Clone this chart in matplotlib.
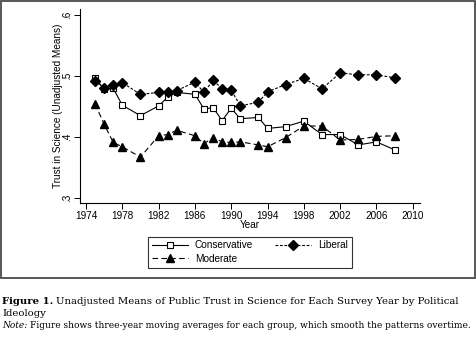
import matplotlib
matplotlib.use("Agg")
import matplotlib.pyplot as plt

# three-year moving averages of trust in science, by survey year
years = [1975, 1976, 1977, 1978, 1980, 1982, 1983, 1984, 1986, 1987, 1988, 1989,
         1990, 1991, 1993, 1994, 1996, 1998, 2000, 2002, 2004, 2006, 2008]
conservative = [.497, .478, .480, .452, .435, .451, .465, .473, .470, .446, .448, .427,
                .447, .430, .432, .414, .417, .426, .404, .404, .387, .392, .379]
moderate = [.454, .421, .391, .384, .367, .402, .404, .411, .402, .389, .399, .392,
            .391, .392, .387, .384, .399, .418, .418, .395, .396, .401, .402]
liberal = [.492, .481, .486, .489, .470, .473, .473, .476, .490, .473, .493, .479,
           .477, .451, .457, .474, .486, .496, .479, .505, .502, .502, .497]

x_ticks = [1974, 1978, 1982, 1986, 1990, 1994, 1998, 2002, 2006, 2010]
y_ticks = [.3, .4, .5, .6]
y_tick_labels = [".3", ".4", ".5", ".6"]

W, H = 477, 343
sans = "Liberation Sans"
serif = "DejaVu Serif"

fig = plt.figure(figsize=(W / 100, H / 100), dpi=100)
fig.patch.set_facecolor("white")

# gray frame around the graph region
frame = plt.Rectangle((0.5 / W, 1 - 278 / H), 475 / W, 277.5 / H, transform=fig.transFigure,
                      fill=False, edgecolor="#4a4a4a", linewidth=1.3)
fig.add_artist(frame)

ax = fig.add_axes([80 / W, 1 - 203 / H, 340 / W, 194 / H])
ax.set_xlim(1973.34, 2010.8)
ax.set_ylim(0.2918, 0.6098)

ax.plot(years, conservative, color="black", linewidth=0.8, linestyle="-",
        marker="s", markersize=4.2, markerfacecolor="white", markeredgecolor="black",
        markeredgewidth=0.8, label="Conservative")
ax.plot(years, moderate, color="black", linewidth=0.8, linestyle=(0, (5, 3)),
        marker="^", markersize=5.8, markerfacecolor="black", markeredgecolor="black",
        label="Moderate")
ax.plot(years, liberal, color="black", linewidth=0.8, linestyle=(0, (2.5, 1.5)),
        marker="D", markersize=5.3, markerfacecolor="black", markeredgecolor="black",
        label="Liberal")

for s in ["top", "right"]:
    ax.spines[s].set_visible(False)
for s in ["left", "bottom"]:
    ax.spines[s].set_linewidth(0.8)

ax.set_xticks(x_ticks)
ax.set_xticklabels([str(t) for t in x_ticks], fontfamily=sans, fontsize=7.2)
ax.set_yticks(y_ticks)
ax.set_yticklabels(y_tick_labels, fontfamily=sans, fontsize=7.2, rotation=90, va="center")
ax.tick_params(direction="out", length=4, width=0.7, pad=2)

ax.set_xlabel("Year", fontfamily=sans, fontsize=7.2, labelpad=-1)
ax.set_ylabel("Trust in Science (Unadjusted Means)", fontfamily=sans, fontsize=7.2, labelpad=-1)

leg = fig.legend(loc="center", bbox_to_anchor=(250 / W, 1 - 252 / H), ncol=2,
                 frameon=True, fancybox=False, handlelength=3.6, handletextpad=0.7,
                 columnspacing=2.2, borderpad=0.4, labelspacing=0.3,
                 prop={"family": sans, "size": 7.2})
leg.get_frame().set_edgecolor("black")
leg.get_frame().set_linewidth(0.8)

# caption below the graph
fig.canvas.draw()
r = fig.canvas.get_renderer()
cap_size = 7.25
note_size = 6.45
t1 = fig.text(2 / W, 1 - 302 / H, "Figure 1.", fontfamily=serif, fontweight="bold",
              fontsize=cap_size, va="center")
bb = t1.get_window_extent(renderer=r)
fig.text(bb.x1 / W + 3 / W, 1 - 302 / H,
         "Unadjusted Means of Public Trust in Science for Each Survey Year by Political",
         fontfamily=serif, fontsize=cap_size, va="center")
fig.text(2 / W, 1 - 313 / H, "Ideology", fontfamily=serif, fontsize=cap_size, va="center")
t2 = fig.text(2 / W, 1 - 326 / H, "Note:", fontfamily=serif, fontstyle="italic",
              fontsize=note_size, va="center")
bb2 = t2.get_window_extent(renderer=r)
fig.text(bb2.x1 / W + 2.5 / W, 1 - 326 / H,
         "Figure shows three-year moving averages for each group, which smooth the patterns overtime.",
         fontfamily=serif, fontsize=note_size, va="center")

fig.savefig("out.png", dpi=100)
